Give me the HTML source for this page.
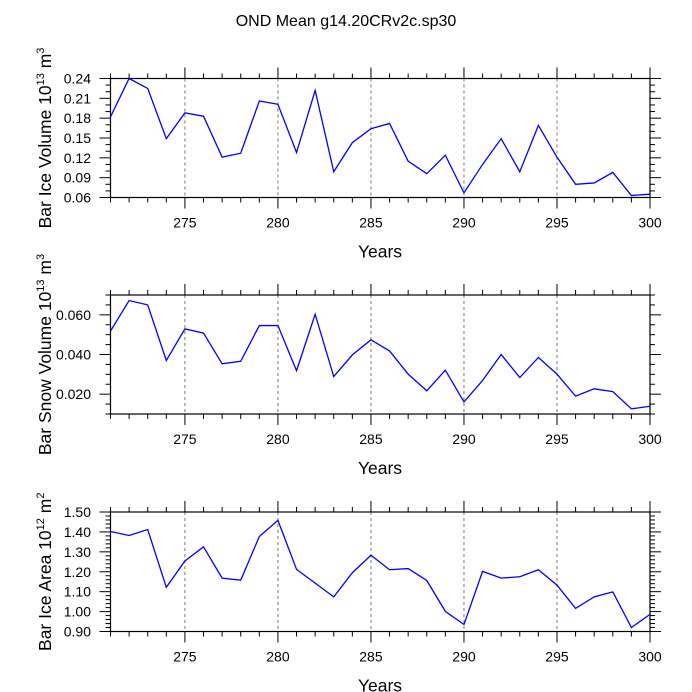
<!DOCTYPE html>
<html><head><meta charset="utf-8"><style>
body{margin:0;background:#fff;}
svg{display:block;font-family:"Liberation Sans",Arial,sans-serif;}
</style></head><body>
<svg id="chart" width="692" height="692" viewBox="0 0 692 692">
<text x="346" y="26" text-anchor="middle" font-size="16">OND Mean g14.20CRv2c.sp30</text>
</svg>
<script>
const years = [271,272,273,274,275,276,277,278,279,280,281,282,283,284,285,286,287,288,289,290,291,292,293,294,295,296,297,298,299,300];
const iceVolume = [0.182,0.240,0.225,0.149,0.188,0.183,0.121,0.127,0.206,0.201,0.128,0.222,0.099,0.143,0.164,0.172,0.115,0.096,0.124,0.067,0.110,0.149,0.099,0.169,0.121,0.080,0.082,0.098,0.063,0.065];
const snowVolume = [0.0518,0.0672,0.0650,0.0370,0.0529,0.0508,0.0353,0.0366,0.0546,0.0546,0.0318,0.0603,0.0289,0.0398,0.0474,0.0418,0.0301,0.0217,0.0321,0.0161,0.0269,0.0400,0.0284,0.0385,0.0301,0.0190,0.0227,0.0213,0.0126,0.0139];
const iceArea = [1.402,1.382,1.412,1.122,1.254,1.325,1.168,1.158,1.377,1.458,1.212,1.143,1.074,1.195,1.283,1.210,1.216,1.156,1.001,0.935,1.202,1.168,1.175,1.210,1.133,1.016,1.074,1.099,0.920,0.986];
const xTicks = [275,280,285,290,295,300];
const iceVolTicks = ["0.06","0.09","0.12","0.15","0.18","0.21","0.24"];
const snowTicks = ["0.020","0.040","0.060"];
const areaTicks = ["0.90","1.00","1.10","1.20","1.30","1.40","1.50"];

const NS="http://www.w3.org/2000/svg";
const svg=document.getElementById('chart');
function mk(tag,attrs,parent){const e=document.createElementNS(NS,tag);for(const k in attrs)e.setAttribute(k,attrs[k]);(parent||svg).appendChild(e);return e;}
const X0=110.5,X1=650;
const xs=v=>X0+(v-271)/(300-271)*(X1-X0);

const panels=[
 {key:'ice-volume',top:78.5,bot:197.5,min:0.06,max:0.24,data:iceVolume,ticks:iceVolTicks,minor:0.01,label:'Bar Ice Volume 10',sup:'13',unit:' m',usup:'3'},
 {key:'snow-volume',top:295,bot:414,min:0.01,max:0.07,data:snowVolume,ticks:snowTicks,minor:0.005,label:'Bar Snow Volume 10',sup:'13',unit:' m',usup:'3'},
 {key:'ice-area',top:512,bot:631.5,min:0.9,max:1.5,data:iceArea,ticks:areaTicks,minor:0.02,label:'Bar Ice Area 10',sup:'12',unit:' m',usup:'2'}
];
panels.forEach(p=>{
 const g=mk('g',{});
 
 
 const ys=v=>p.bot-(v-p.min)/(p.max-p.min)*(p.bot-p.top);
 xTicks.forEach(t=>{ if(t<300){const l=mk('line',{x1:xs(t),x2:xs(t),y1:p.top,y2:p.bot,stroke:'#777','stroke-width':1,'stroke-dasharray':'3,3'},g);
  
  }});
 for(let y=271;y<=300;y++){const major=y%5===0;const len=major?11:5;
  mk('line',{x1:xs(y),x2:xs(y),y1:p.bot,y2:p.bot+len,stroke:'#000','stroke-width':1},g);
  mk('line',{x1:xs(y),x2:xs(y),y1:p.top,y2:p.top-len,stroke:'#000','stroke-width':1},g);}
 xTicks.forEach(t=>{const tx=mk('text',{x:xs(t),y:p.bot+30,'text-anchor':'middle','font-size':14},g);tx.textContent=t;
  
  });
 const n=Math.round((p.max-p.min)/p.minor);
 const majorStep=(parseFloat(p.ticks[1])-parseFloat(p.ticks[0]));
 for(let i=0;i<=n;i++){const v=p.min+i*p.minor;const r=(v-parseFloat(p.ticks[0]))/majorStep;const major=Math.abs(r-Math.round(r))<1e-6&&r>-1e-6;const len=major?11:5;
  mk('line',{x1:X0,x2:X0-len,y1:ys(v),y2:ys(v),stroke:'#000','stroke-width':1},g);
  mk('line',{x1:X1,x2:X1+len,y1:ys(v),y2:ys(v),stroke:'#000','stroke-width':1},g);}
 p.ticks.forEach(t=>{const tx=mk('text',{x:91,y:ys(parseFloat(t))+5,'text-anchor':'end','font-size':14},g);tx.textContent=t;
  
  });
 mk('rect',{x:X0,y:p.top,width:X1-X0,height:p.bot-p.top,fill:'none',stroke:'#000','stroke-width':1.2},g);
 const pts=p.data.map((v,i)=>xs(years[i])+','+ys(v)).join(' ');
 const pl=mk('polyline',{points:pts,fill:'none',stroke:'#0000ff','stroke-width':1.3},g);
 
 
 const xt=mk('text',{x:380,y:p.bot+60,'text-anchor':'middle','font-size':17.5},g);xt.textContent='Years';
 
 
 const cy=(p.top+p.bot)/2;
 const yt=mk('text',{x:0,y:0,'text-anchor':'middle','font-size':17.5,transform:`translate(51,${cy}) rotate(-90)`},g);
 
 
 const a=mk('tspan',{},yt);a.textContent=p.label;
 const b=mk('tspan',{dy:-7,'font-size':11},yt);b.textContent=p.sup;
 const c=mk('tspan',{dy:7},yt);c.textContent=p.unit;
 const d=mk('tspan',{dy:-7,'font-size':11},yt);d.textContent=p.usup;
});
</script>
</body></html>
